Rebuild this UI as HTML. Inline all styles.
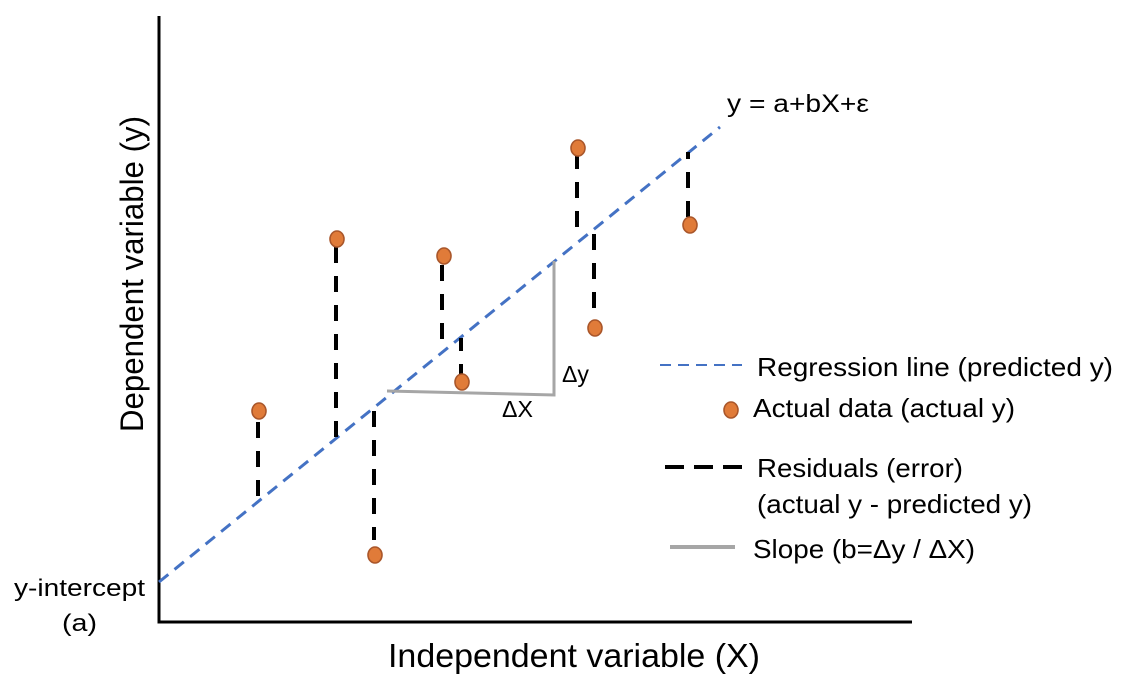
<!DOCTYPE html>
<html>
<head>
<meta charset="utf-8">
<style>
  html, body { margin: 0; padding: 0; background: #ffffff; }
  svg { display: block; }
  text { font-family: "Liberation Sans", Arial, sans-serif; fill: #000; }
</style>
</head>
<body>
<svg width="1122" height="694" viewBox="0 0 1122 694" xmlns="http://www.w3.org/2000/svg">
  <rect x="0" y="0" width="1122" height="694" fill="#ffffff"/>

  <!-- Axes -->
  <line x1="159" y1="16" x2="159" y2="623" stroke="#000" stroke-width="3"/>
  <line x1="157.5" y1="622" x2="912" y2="622" stroke="#000" stroke-width="3"/>

  <!-- Regression line -->
  <line x1="159" y1="582" x2="720" y2="127" stroke="#4472C4" stroke-width="3" stroke-dasharray="12 8"/>

  <!-- Slope triangle -->
  <polyline points="387,391 554,395 554,261" fill="none" stroke="#A6A6A6" stroke-width="3"/>

  <!-- Residuals -->
  <g stroke="#000" stroke-width="4" stroke-dasharray="16 13" fill="none">
    <line x1="258" y1="422" x2="258" y2="498"/>
    <line x1="336" y1="247" x2="336" y2="438"/>
    <line x1="374" y1="540" x2="374" y2="405" stroke-dashoffset="3"/>
    <line x1="442" y1="265" x2="442" y2="341"/>
    <line x1="461" y1="380" x2="461" y2="338"/>
    <line x1="577" y1="153" x2="577" y2="229"/>
    <line x1="594" y1="308" x2="594" y2="231"/>
    <line x1="688" y1="217" x2="688" y2="152"/>
  </g>

  <!-- Data points -->
  <g fill="#E07B39" stroke="#A9562A" stroke-width="1.6">
    <ellipse cx="259" cy="411" rx="7" ry="8"/>
    <ellipse cx="337" cy="239" rx="7" ry="8"/>
    <ellipse cx="375" cy="555" rx="7" ry="8"/>
    <ellipse cx="444" cy="256" rx="7" ry="8"/>
    <ellipse cx="462" cy="382" rx="7" ry="8"/>
    <ellipse cx="578" cy="148" rx="7" ry="8"/>
    <ellipse cx="595" cy="328" rx="7" ry="8"/>
    <ellipse cx="690" cy="225" rx="7" ry="8"/>
  </g>

  <!-- Labels in plot -->
  <text x="502" y="417" font-size="23" textLength="31" lengthAdjust="spacingAndGlyphs">ΔX</text>
  <text x="562" y="382" font-size="23" textLength="27" lengthAdjust="spacingAndGlyphs">Δy</text>
  <text x="727" y="112" font-size="25" textLength="142" lengthAdjust="spacingAndGlyphs">y = a+bX+ε</text>

  <!-- y-intercept -->
  <text x="14" y="596" font-size="24" textLength="131" lengthAdjust="spacingAndGlyphs">y-intercept</text>
  <text x="62" y="631" font-size="24" textLength="35" lengthAdjust="spacingAndGlyphs">(a)</text>

  <!-- Axis titles -->
  <text x="388" y="667" font-size="33" textLength="372" lengthAdjust="spacingAndGlyphs">Independent variable (X)</text>
  <text transform="translate(143,432) rotate(-90)" x="0" y="0" font-size="32" textLength="316" lengthAdjust="spacingAndGlyphs">Dependent variable (y)</text>

  <!-- Legend -->
  <line x1="660" y1="365" x2="742" y2="365" stroke="#4472C4" stroke-width="2" stroke-dasharray="11 7"/>
  <text x="757" y="376" font-size="26" textLength="356" lengthAdjust="spacingAndGlyphs">Regression line (predicted y)</text>

  <ellipse cx="731" cy="410" rx="7" ry="8" fill="#E07B39" stroke="#A9562A" stroke-width="1.6"/>
  <text x="753" y="417" font-size="26" textLength="262" lengthAdjust="spacingAndGlyphs">Actual data (actual y)</text>

  <line x1="665" y1="467" x2="742" y2="467" stroke="#000" stroke-width="4" stroke-dasharray="19 10"/>
  <text x="757" y="477" font-size="26" textLength="206" lengthAdjust="spacingAndGlyphs">Residuals (error)</text>
  <text x="757" y="513" font-size="26" textLength="275" lengthAdjust="spacingAndGlyphs">(actual y - predicted y)</text>

  <line x1="670" y1="547" x2="735" y2="547" stroke="#A6A6A6" stroke-width="4"/>
  <text x="753" y="558" font-size="26" textLength="222" lengthAdjust="spacingAndGlyphs">Slope (b=Δy / ΔX)</text>
</svg>
</body>
</html>
